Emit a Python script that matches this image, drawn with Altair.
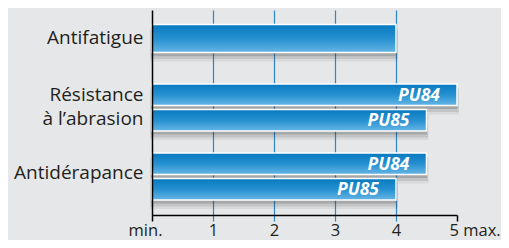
import altair as alt
import pandas as pd

criteria = ["Antifatigue", "Résistance à l’abrasion", "Antidérapance"]
series = ["PU84", "PU85"]
single_values = [4, None, None]
pu84_values = [None, 5, 4.5]
pu85_values = [None, 4.5, 4]
tick_values = [0, 1, 2, 3, 4, 5]

rows = []
for c, s, a, b in zip(criteria, single_values, pu84_values, pu85_values):
    if s is not None:
        rows.append({"criterion": c, "series": "", "value": s, "kind": "single"})
    if a is not None:
        rows.append({"criterion": c, "series": "PU84", "value": a, "kind": "group"})
    if b is not None:
        rows.append({"criterion": c, "series": "PU85", "value": b, "kind": "group"})
df = pd.DataFrame(rows)

FONT = "Open Sans"
TEXT = "#231f20"
BLUE_LINE = "#2f86c8"
ENDS = "datum.value == 0 || datum.value == 5"

grad = alt.LinearGradient(
    gradient="linear",
    stops=[alt.GradientStop(color="#0879bf", offset=0),
           alt.GradientStop(color="#2590d1", offset=0.5),
           alt.GradientStop(color="#66b5e4", offset=1)],
    x1=0, x2=0, y1=0, y2=1,
)

x_enc = alt.X(
    "value:Q",
    scale=alt.Scale(domain=[0, 5], nice=False, zero=True),
    axis=alt.Axis(
        title=None,
        values=tick_values,
        domainColor="black",
        domainWidth=1.5,
        tickSize=6,
        tickWidth={"condition": {"test": ENDS, "value": 1.5}, "value": 1.2},
        tickColor={"condition": {"test": ENDS, "value": "black"}, "value": BLUE_LINE},
        grid=True,
        gridColor={"condition": {"test": ENDS, "value": "transparent"}, "value": BLUE_LINE},
        gridWidth=1.2,
        labelExpr="datum.value == 0 ? 'min.' : datum.value == 5 ? '5 max.' : datum.label",
        labelAlign={"condition": [{"test": "datum.value == 0", "value": "right"},
                                  {"test": "datum.value == 5", "value": "left"}], "value": "center"},
        labelOffset={"condition": [{"test": "datum.value == 0", "value": 10},
                                   {"test": "datum.value == 5", "value": -8}], "value": 0},
        labelFont=FONT,
        labelFontSize=16.5,
        labelColor=TEXT,
        labelPadding=1,
    ),
)

y_axis = alt.Axis(
    title=None,
    domainColor="black",
    domainWidth=1.5,
    ticks=False,
    grid=False,
    zindex=1,
    labelFont=FONT,
    labelFontSize=19,
    labelColor=TEXT,
    labelPadding=9,
    labelLineHeight=24,
    labelOffset={"condition": [{"test": "datum.value == 'Résistance à l’abrasion'", "value": -12},
                               {"test": "datum.value == 'Antidérapance'", "value": -3}], "value": 0},
    labelExpr="datum.value == 'Résistance à l’abrasion' ? ['Résistance', 'à l’abrasion'] : datum.label",
)


def y_enc(shift=0.0, with_axis=False):
    kw = {"axis": y_axis} if with_axis else {"axis": None}
    return alt.Y(
        "criterion:N",
        sort=criteria,
        scale=alt.Scale(domain=criteria, paddingInner=0.319, paddingOuter=0.145, align=0.25 + shift),
        **kw,
    )


yoff_enc = alt.YOffset("series:N", sort=series, scale=alt.Scale(domain=series, paddingInner=0.157))

base = alt.Chart(df)
single = base.transform_filter("datum.kind == 'single'")
group = base.transform_filter("datum.kind == 'group'")

layers = []
# soft drop shadow: translucent copies on a band scale nudged downwards
for shift, op, sw in [(0.35, 0.07, 4), (0.25, 0.12, 3), (0.15, 0.2, 1)]:
    layers.append(single.mark_bar(height=alt.RelativeBandSize(0.6), color="#333333", opacity=op,
                                  stroke="#333333", strokeWidth=sw)
                  .encode(x=x_enc, y=y_enc(shift)))
    layers.append(group.mark_bar(color="#333333", opacity=op, stroke="#333333", strokeWidth=sw)
                  .encode(x=x_enc, y=y_enc(shift), yOffset=yoff_enc))

layers.append(single.mark_bar(height=alt.RelativeBandSize(0.6), color=grad, stroke="white", strokeWidth=1.5)
              .encode(x=x_enc, y=y_enc(0, with_axis=True)))
layers.append(group.mark_bar(color=grad, stroke="white", strokeWidth=1.5)
              .encode(x=x_enc, y=y_enc(0), yOffset=yoff_enc))
layers.append(group.mark_text(align="right", baseline="middle", dx=-17, dy=1, color="white",
                              font=FONT, fontSize=17.5, fontWeight="bold", fontStyle="italic")
              .encode(x=x_enc, y=y_enc(0), yOffset=yoff_enc, text="series:N"))

chart = alt.layer(*layers).resolve_scale(y="independent").properties(
    width=305,
    height=205,
    autosize=alt.AutoSizeParams(type="none"),
    padding={"left": 144, "top": 2, "right": 44, "bottom": 25},
    background="#e6e7e8",
).configure_view(stroke=None)

chart.save("out.html", embed_options={"renderer": "svg", "actions": False})
